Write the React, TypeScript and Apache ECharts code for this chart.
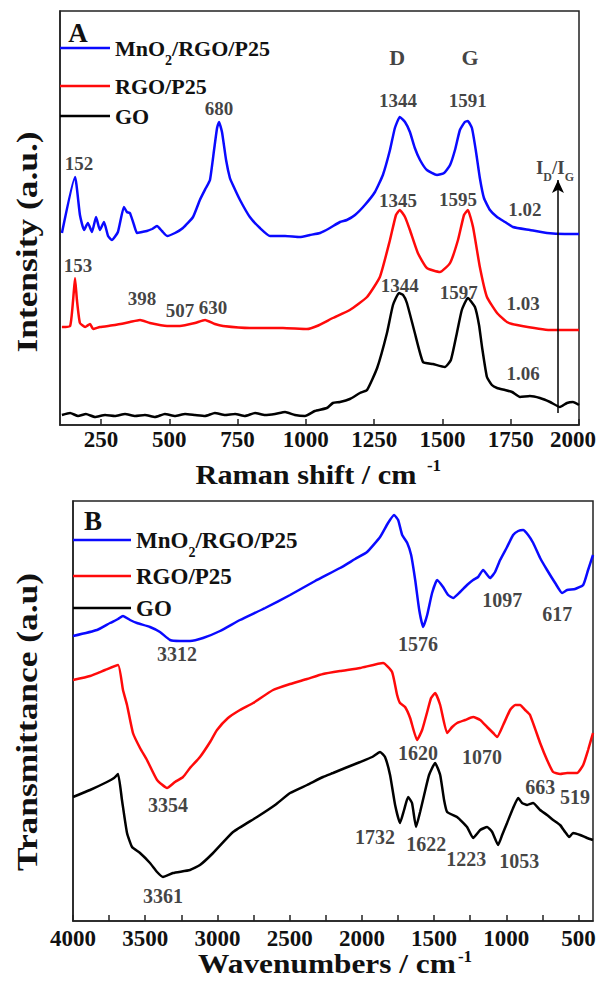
import { useEffect, useRef } from "react";
import * as echarts from "echarts";

const FONT = "Liberation Serif, Times New Roman, serif";
const BLUE = "#0a0aff";
const RED = "#ff0a0a";
const BLACK = "#000000";
const NAMES = ["MnO2/RGO/P25", "RGO/P25", "GO"];

// ---- Panel A: Raman (wavenumber, relative intensity) ----
const ramanMnO2 = [
  [107, 192], [155, 248], [173, 210], [188, 195], [202, 202], [217, 193], [232, 208], [246, 195],
  [261, 203], [276, 189], [290, 185], [312, 193], [334, 218], [345, 213], [356, 212], [371, 200],
  [382, 192], [400, 193], [418, 194], [437, 196], [455, 199], [473, 194], [492, 189], [521, 192],
  [550, 197], [587, 208], [612, 225], [634, 237], [649, 245], [664, 275], [675, 297], [682, 303],
  [693, 293], [708, 265], [722, 247], [733, 240], [759, 225], [795, 208], [832, 197], [869, 189],
  [924, 189], [978, 188], [1015, 190], [1052, 192], [1088, 197], [1125, 203], [1150, 205], [1180, 210],
  [1216, 220], [1253, 233], [1282, 250], [1308, 275], [1326, 297], [1344, 308], [1363, 303], [1381, 293],
  [1399, 277], [1418, 265], [1443, 255], [1480, 250], [1506, 252], [1528, 260], [1546, 275], [1564, 295],
  [1582, 303], [1593, 304], [1608, 297], [1622, 275], [1637, 247], [1652, 227], [1674, 215], [1700, 208],
  [1729, 203], [1758, 198], [1820, 195], [1883, 192], [1948, 191], [2000, 191],
];
const ramanRGO = [
  [107, 98], [137, 99], [148, 125], [155, 147], [162, 125], [173, 102], [192, 98], [210, 101],
  [221, 96], [246, 98], [301, 100], [356, 103], [393, 105], [429, 102], [492, 99], [539, 99],
  [594, 102], [631, 105], [667, 101], [697, 99], [795, 97], [916, 97], [1004, 96], [1041, 99],
  [1099, 107], [1161, 115], [1224, 128], [1271, 148], [1308, 185], [1330, 210], [1344, 215], [1363, 208],
  [1381, 195], [1410, 172], [1443, 157], [1491, 153], [1528, 162], [1557, 185], [1579, 210], [1593, 215],
  [1612, 198], [1637, 158], [1663, 128], [1700, 112], [1736, 103], [1773, 100], [1894, 95], [2000, 95],
];
const ramanGO = [
  [107, 10], [137, 12], [166, 9], [195, 11], [228, 8], [265, 10], [301, 9], [338, 11], [375, 9],
  [411, 10], [448, 8], [484, 11], [521, 9], [558, 11], [594, 10], [631, 9], [667, 12], [704, 10],
  [741, 11], [777, 9], [814, 12], [850, 10], [887, 11], [924, 13], [960, 10], [997, 9], [1033, 14],
  [1077, 17], [1099, 22], [1125, 23], [1161, 26], [1198, 32], [1224, 35], [1261, 57], [1297, 92],
  [1319, 120], [1341, 132], [1356, 130], [1370, 122], [1399, 92], [1429, 63], [1465, 61], [1509, 58],
  [1531, 65], [1553, 92], [1571, 115], [1593, 127], [1619, 118], [1634, 100], [1645, 78], [1663, 48],
  [1681, 40], [1700, 37], [1729, 35], [1755, 33], [1784, 28], [1820, 29], [1857, 27], [1894, 23],
  [1930, 18], [1956, 22], [1978, 23], [2000, 20],
];

// ---- Panel B: FTIR (wavenumber, relative transmittance) ----
const ftirMnO2 = [
  [4000, 285], [3834, 291], [3744, 298], [3688, 302], [3654, 305], [3605, 301], [3557, 298], [3467, 294],
  [3398, 289], [3328, 281], [3259, 280], [3190, 280], [3100, 283], [2982, 290], [2844, 301], [2670, 313],
  [2497, 326], [2324, 340], [2151, 353], [2047, 362], [1964, 369], [1874, 384], [1819, 398], [1777, 406],
  [1749, 401], [1721, 386], [1686, 378], [1659, 366], [1631, 341], [1603, 311], [1576, 294], [1548, 306],
  [1514, 328], [1479, 341], [1438, 334], [1403, 326], [1368, 323], [1320, 329], [1272, 336], [1230, 341],
  [1195, 344], [1161, 351], [1112, 343], [1078, 349], [1043, 361], [995, 374], [953, 386], [918, 390],
  [884, 391], [849, 386], [814, 378], [766, 363], [718, 351], [662, 338], [614, 328], [579, 331],
  [524, 332], [468, 336], [434, 351], [400, 366],
];
const ftirRGO = [
  [4000, 241], [3882, 245], [3778, 251], [3688, 256], [3654, 231], [3626, 216], [3585, 188], [3536, 173],
  [3488, 161], [3418, 141], [3349, 133], [3294, 139], [3238, 144], [3190, 153], [3121, 164], [3051, 179],
  [3003, 191], [2927, 203], [2844, 211], [2753, 218], [2615, 231], [2497, 237], [2380, 242], [2269, 247],
  [2151, 250], [2012, 253], [1853, 258], [1791, 249], [1756, 226], [1736, 218], [1701, 214], [1666, 203],
  [1618, 181], [1583, 191], [1548, 209], [1521, 223], [1493, 228], [1458, 216], [1410, 188], [1375, 194],
  [1341, 198], [1285, 201], [1230, 204], [1181, 201], [1133, 194], [1091, 188], [1064, 184], [1022, 196],
  [974, 211], [939, 216], [905, 216], [870, 211], [836, 206], [766, 178], [718, 161], [676, 149],
  [628, 147], [579, 148], [510, 148], [468, 156], [434, 171], [400, 188],
];
const ftirGO = [
  [4000, 124], [3882, 131], [3765, 139], [3716, 143], [3688, 147], [3661, 121], [3626, 88], [3591, 74],
  [3536, 68], [3467, 58], [3418, 49], [3377, 44], [3308, 48], [3190, 51], [3121, 56], [3030, 68],
  [2892, 89], [2726, 104], [2601, 116], [2497, 128], [2380, 136], [2269, 144], [2200, 148], [2116, 153],
  [2012, 159], [1929, 164], [1874, 169], [1840, 164], [1805, 146], [1770, 116], [1736, 98], [1708, 111],
  [1680, 124], [1653, 118], [1625, 94], [1597, 109], [1569, 126], [1535, 146], [1493, 158], [1458, 146],
  [1431, 121], [1410, 109], [1341, 104], [1272, 94], [1230, 83], [1181, 91], [1133, 94], [1098, 89],
  [1057, 76], [1029, 86], [995, 98], [953, 113], [918, 123], [891, 118], [856, 116], [815, 118],
  [766, 111], [718, 106], [676, 101], [628, 96], [593, 89], [565, 84], [538, 88], [489, 86],
  [441, 83], [400, 81],
];

// ---- Axis ticks ----
const ramanRange = [100, 2000];
const ramanTicks = [250, 500, 750, 1000, 1250, 1500, 1750, 2000];
const ftirRange = [400, 4000];
const ftirLabels = [500, 1000, 1500, 2000, 2500, 3000, 3500, 4000];
const ftirTicks = [500, 750, 1000, 1250, 1500, 1750, 2000, 2250, 2500, 2750, 3000, 3250, 3500, 3750, 4000];

// ---- Annotations (x, y, text) ----
const ramanPeakLabels: [number, number, string][] = [
  [170, 262, "152"], [682, 317, "680"], [1337, 325, "1344"], [1593, 325, "1591"],
  [166, 160, "153"], [400, 127, "398"], [539, 115, "507"], [660, 118, "630"],
  [1337, 225, "1345"], [1557, 226, "1595"], [1344, 140, "1344"], [1560, 133, "1597"],
  [1802, 216, "1.02"], [1795, 122, "1.03"], [1795, 52, "1.06"],
];
const ramanBandLabels: [number, number, string][] = [[1334, 368, "D"], [1601, 368, "G"]];
const ramanRatioLabel: [number, number] = [1912, 258];
const ramanArrow = { x: 1923, from: 12, to: 245 };
const ftirPeakLabels: [number, number, string][] = [
  [3280, 267, "3312"], [1611, 277, "1576"], [1029, 321, "1097"], [648, 307, "617"],
  [1611, 168, "1620"], [1168, 164, "1070"], [766, 134, "663"], [524, 124, "519"],
  [3342, 116, "3354"], [3377, 25, "3361"], [1909, 84, "1732"], [1555, 77, "1622"],
  [1278, 62, "1223"], [911, 60, "1053"],
];

const bold = (size: number) => `bold ${size}px ${FONT}`;

function legendItem(name: string, left: number, center: number, itemWidth: number, fontSize: number, subSize: number) {
  const isMn = name === NAMES[0];
  const baseLH = fontSize + 2;
  const subPad = Math.round(fontSize * 1.1);
  const h = isMn ? subPad + subSize : baseLH;
  return {
    data: [name],
    left,
    top: center - h / 2,
    orient: "vertical",
    padding: 0,
    icon: "rect",
    itemWidth,
    itemHeight: 2.5,
    itemGap: 0,
    selectedMode: false,
    formatter: (n: string) => (n === NAMES[0] ? "{a|MnO}{s|2}{a|/RGO/P25}" : `{a|${n}}`),
    textStyle: {
      rich: {
        a: { fontSize, fontWeight: "bold", fontFamily: FONT, color: "#111", lineHeight: baseLH },
        s: { fontSize: subSize, lineHeight: subSize, fontWeight: "bold", fontFamily: FONT, color: "#111", padding: [subPad, 0, 0, 0] },
      },
    },
  };
}

function lineSeries(name: string, data: number[][], color: string, idx: number) {
  return {
    type: "line",
    name,
    data,
    xAxisIndex: idx,
    yAxisIndex: idx,
    symbol: "none",
    showSymbol: false,
    smooth: 0.15,
    lineStyle: { color, width: 2.5 },
    itemStyle: { color },
    emphasis: { disabled: true },
    z: 3,
  };
}

export default function App() {
  const ref = useRef<HTMLDivElement>(null);
  useEffect(() => {
    if (!ref.current) return;
    const chart = echarts.init(ref.current, undefined, { renderer: "svg" });
    const axisLineStyle = { color: "#222", width: 1.5 };
    const tickText = { fontSize: 23, fontWeight: "bold", fontFamily: FONT, color: "#111" };
    const xLabelStyle = { ...tickText, formatter: (v: number) => String(v) };

    const labelBase = { show: true, position: "inside", formatter: "{b}", fontSize: 19, fontWeight: "bold", fontFamily: FONT, color: "#111" };

    const ramanNotes = [
      ...ramanPeakLabels.map(([x, y, t]) => ({ name: t, value: [x, y] })),
      ...ramanBandLabels.map(([x, y, t]) => ({ name: t, value: [x, y], label: { fontSize: 22 } })),
      {
        name: "IDIG",
        value: ramanRatioLabel,
        label: {
          formatter: "{b|I}{s|D}{b|/I}{s|G}",
          rich: {
            b: { fontSize: 19, lineHeight: 22, fontWeight: "bold", fontFamily: FONT, color: "#111" },
            s: { fontSize: 12, lineHeight: 12, fontWeight: "bold", fontFamily: FONT, color: "#111", padding: [20, 0, 0, 0] },
          },
        },
      },
    ];
    const ftirNotes = ftirPeakLabels.map(([x, y, t]) => ({ name: t, value: [x, y] }));

    chart.setOption({
      animation: false,
      backgroundColor: "#ffffff",
      textStyle: { fontFamily: FONT },
      grid: [
        { left: 60, top: 11, right: 17, bottom: 561, show: true, borderColor: "#222", borderWidth: 1.5, containLabel: false, outerBoundsMode: "none" },
        { left: 73, top: 501, right: 3, bottom: 65, show: true, borderColor: "#222", borderWidth: 1.5, containLabel: false, outerBoundsMode: "none" },
      ],
      xAxis: [
        {
          type: "value", gridIndex: 0, min: ramanRange[0], max: ramanRange[1],
          axisLine: { show: true, lineStyle: axisLineStyle },
          axisTick: { show: true, inside: true, length: 6, customValues: ramanTicks, lineStyle: axisLineStyle },
          axisLabel: {
            ...xLabelStyle,
            margin: 3,
            customValues: ramanTicks,
            formatter: (v: number) => (v === ramanRange[1] ? `{r|${v}}` : String(v)),
            rich: { r: { ...tickText, padding: [0, 12, 0, 0] } },
          },
          splitLine: { show: false },
        },
        {
          type: "value", gridIndex: 1, min: ftirRange[0], max: ftirRange[1], inverse: true,
          axisLine: { show: true, lineStyle: axisLineStyle },
          axisTick: { show: true, inside: true, length: 6, customValues: ftirTicks, lineStyle: axisLineStyle },
          axisLabel: { ...xLabelStyle, margin: 6, customValues: ftirLabels },
          splitLine: { show: false },
        },
      ],
      yAxis: [
        { type: "value", gridIndex: 0, min: 0, max: 414, axisLine: { show: true, lineStyle: axisLineStyle }, axisTick: { show: false }, axisLabel: { show: false }, splitLine: { show: false } },
        { type: "value", gridIndex: 1, min: 0, max: 420, axisLine: { show: true, lineStyle: axisLineStyle }, axisTick: { show: false }, axisLabel: { show: false }, splitLine: { show: false } },
      ],
      legend: [
        legendItem(NAMES[0], 60, 48, 50, 22, 14),
        legendItem(NAMES[1], 60, 87, 50, 22, 14),
        legendItem(NAMES[2], 60, 117, 50, 22, 14),
        legendItem(NAMES[0], 73, 540, 58, 23, 14),
        legendItem(NAMES[1], 73, 577, 58, 23, 14),
        legendItem(NAMES[2], 73, 609, 58, 23, 14),
      ],
      series: [
        lineSeries(NAMES[0], ramanMnO2, BLUE, 0),
        lineSeries(NAMES[1], ramanRGO, RED, 0),
        lineSeries(NAMES[2], ramanGO, BLACK, 0),
        lineSeries(NAMES[0], ftirMnO2, BLUE, 1),
        lineSeries(NAMES[1], ftirRGO, RED, 1),
        lineSeries(NAMES[2], ftirGO, BLACK, 1),
        {
          type: "scatter", name: "ramanNotes", xAxisIndex: 0, yAxisIndex: 0,
          symbolSize: 1, itemStyle: { color: "rgba(0,0,0,0)" }, label: labelBase, data: ramanNotes, z: 5,
          emphasis: { disabled: true }, silent: true,
          markLine: {
            silent: true, symbol: ["none", "arrow"], symbolSize: [9, 13],
            lineStyle: { color: "#000", width: 1.5, type: "solid" }, label: { show: false },
            emphasis: { disabled: true },
            data: [[{ coord: [ramanArrow.x, ramanArrow.from] }, { coord: [ramanArrow.x, ramanArrow.to] }]],
          },
        },
        {
          type: "scatter", name: "ftirNotes", xAxisIndex: 1, yAxisIndex: 1,
          symbolSize: 1, itemStyle: { color: "rgba(0,0,0,0)" }, label: { ...labelBase, fontSize: 20 }, data: ftirNotes, z: 5,
          emphasis: { disabled: true }, silent: true,
        },
      ],
      graphic: [
        { type: "text", x: 78, y: 33, style: { text: "A", font: bold(27), fill: "#111", align: "center", verticalAlign: "middle" } },
        { type: "text", x: 93, y: 521, style: { text: "B", font: bold(27), fill: "#111", align: "center", verticalAlign: "middle" } },
        { type: "text", x: 306, y: 474, scaleX: 1.08, style: { text: "Raman shift / cm", font: bold(28), fill: "#111", align: "center", verticalAlign: "middle" } },
        { type: "text", x: 434, y: 465, style: { text: "-1", font: bold(17), fill: "#111", align: "center", verticalAlign: "middle" } },
        { type: "text", x: 327, y: 964, scaleX: 1.12, style: { text: "Wavenumbers / cm", font: bold(28), fill: "#111", align: "center", verticalAlign: "middle" } },
        { type: "text", x: 465, y: 956, style: { text: "-1", font: bold(17), fill: "#111", align: "center", verticalAlign: "middle" } },
        { type: "text", x: 27, y: 242, rotation: Math.PI / 2, scaleX: 1.18, style: { text: "Intensity (a.u.)", font: bold(30), fill: "#111", align: "center", verticalAlign: "middle" } },
        { type: "text", x: 27, y: 722, rotation: Math.PI / 2, scaleX: 1.18, style: { text: "Transmittance (a.u)", font: bold(30), fill: "#111", align: "center", verticalAlign: "middle" } },
      ],
    });
    return () => chart.dispose();
  }, []);
  return <div ref={ref} style={{ position: "absolute", left: 0, top: 0, width: 596, height: 986, background: "#fff" }} />;
}
